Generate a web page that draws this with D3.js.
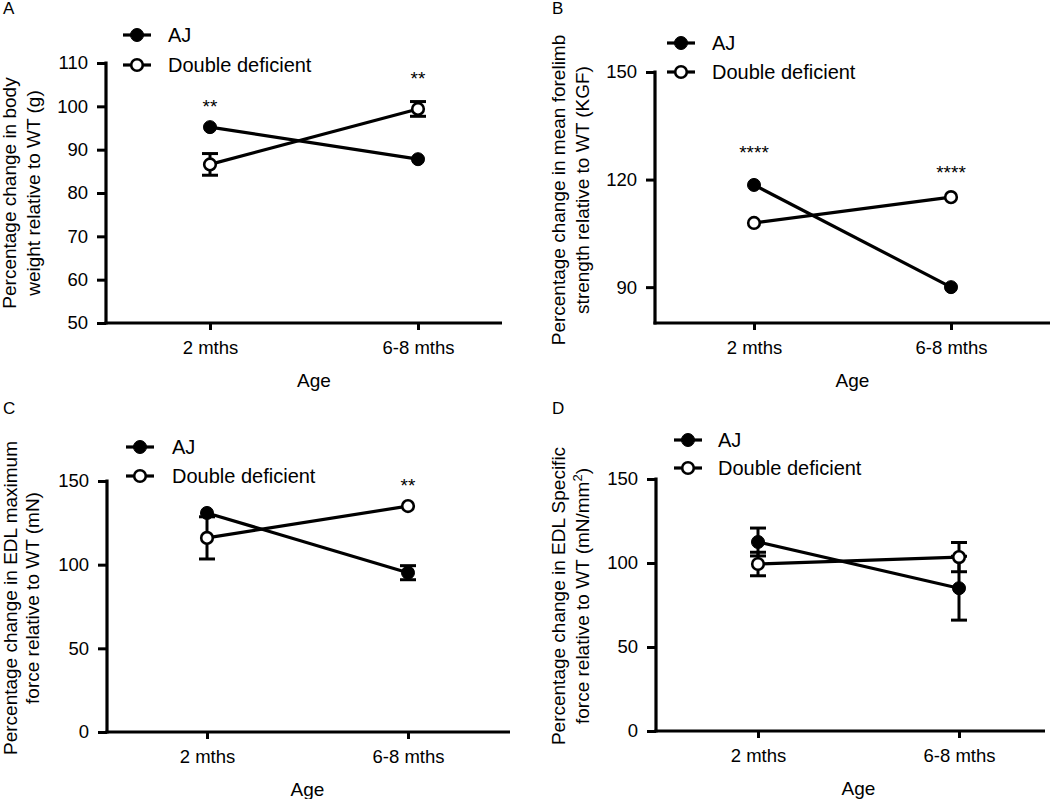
<!DOCTYPE html>
<html><head><meta charset="utf-8">
<script src="https://cdn.jsdelivr.net/npm/d3@7"></script>
<style>
body{margin:0;background:#fff;}
text{font-family:"Liberation Sans",Arial,Helvetica,sans-serif;fill:#000;}
</style></head>
<body><svg id="chart" width="1050" height="799"></svg>
<script>
// ---------- data ----------
const categories = ["2 mths", "6-8 mths"];
const seriesNames = ["AJ", "Double deficient"];

const panelLetters = ["A", "B", "C", "D"];
const yTitles = [
  ["Percentage change in body", "weight relative to WT (g)"],
  ["Percentage change in mean forelimb", "strength relative to WT (KGF)"],
  ["Percentage change in EDL maximum", "force relative to WT (mN)"],
  ["Percentage change in EDL Specific", "force relative to WT (mN/mm²)"]
];
const xTitle = "Age";

const yTicksA = [50, 60, 70, 80, 90, 100, 110];
const yTicksB = [90, 120, 150];
const yTicksC = [0, 50, 100, 150];
const yTicksD = [0, 50, 100, 150];

// A: body weight (SEM 0 = hidden behind the symbol)
const aAJ = [95.2, 87.8];
const aAJerr = [0, 0];
const aDD = [86.6, 99.4];
const aDDerr = [2.5, 1.7];
const aStars = [["2 mths", 98.5, "**"], ["6-8 mths", 104.9, "**"]];

// B: forelimb strength
const bAJ = [118.5, 90.0];
const bAJerr = [0, 0];
const bDD = [107.9, 115.1];
const bDDerr = [0, 0];
const bStars = [["2 mths", 125.7, "****"], ["6-8 mths", 120.1, "****"]];

// C: EDL maximum force
const cAJ = [130.9, 95.2];
const cAJerr = [0, 4.2];
const cDD = [116.0, 135.0];
const cDDerr = [12.6, 0];
const cStars = [["6-8 mths", 143.4, "**"]];

// D: EDL specific force
const dAJ = [112.5, 85.0];
const dAJerr = [8.3, 19.0];
const dDD = [99.4, 103.5];
const dDDerr = [7.0, 8.7];
const dStars = [];

// ---------- layout ----------
const panels = [
  {letter: panelLetters[0], title: yTitles[0], ticks: yTicksA, domain: [50, 110],
   aj: aAJ, ajErr: aAJerr, dd: aDD, ddErr: aDDerr, stars: aStars,
   axisX: 106, axisEnd: 502, yTop: 63, yBot: 323, xT: [210, 418],
   titleX: [16, 40], titleY: 193, legX: 137, legY: [35, 65], textX: 168},
  {letter: panelLetters[1], title: yTitles[1], ticks: yTicksB, domain: [80, 150],
   aj: bAJ, ajErr: bAJerr, dd: bDD, ddErr: bDDerr, stars: bStars,
   axisX: 655, axisEnd: 1050, yTop: 72, yBot: 323, xT: [754, 951],
   titleX: [565, 589], titleY: 190, legX: 681, legY: [43, 72], textX: 712},
  {letter: panelLetters[2], title: yTitles[2], ticks: yTicksC, domain: [0, 150],
   aj: cAJ, ajErr: cAJerr, dd: cDD, ddErr: cDDerr, stars: cStars,
   axisX: 107, axisEnd: 510, yTop: 481, yBot: 732, xT: [207, 408],
   titleX: [17, 39], titleY: 598, legX: 140, legY: [447, 476], textX: 172},
  {letter: panelLetters[3], title: yTitles[3], ticks: yTicksD, domain: [0, 150],
   aj: dAJ, ajErr: dAJerr, dd: dDD, ddErr: dDDerr, stars: dStars,
   axisX: 656, axisEnd: 1045, yTop: 479, yBot: 731, xT: [758, 959],
   titleX: [565, 589], titleY: 596, legX: 688, legY: [440, 468], textX: 718}
];
const letterPos = [[3, 14], [552, 14], [3, 414], [552, 414]];

const svg = d3.select("#chart");
const FS = 18.5;

panels.forEach((p, pi) => {
  const g = svg.append("g");
  const x = d3.scalePoint().domain(categories).range(p.xT);
  const y = d3.scaleLinear().domain(p.domain).range([p.yBot, p.yTop]);

  g.append("text").attr("x", letterPos[pi][0]).attr("y", letterPos[pi][1])
    .style("font-size", "17px").text(p.letter);

  // y axis
  const ya = g.append("g").attr("transform", `translate(${p.axisX},0)`)
    .call(d3.axisLeft(y).tickValues(p.ticks).tickSize(9).tickPadding(9).tickSizeOuter(0));
  ya.select(".domain").remove();
  ya.append("line").attr("x1", 0).attr("x2", 0).attr("y1", p.yTop - 1.5).attr("y2", p.yBot + 1.5)
    .attr("stroke", "#000").attr("stroke-width", 3.2);
  ya.selectAll(".tick line").attr("stroke", "#000").attr("stroke-width", 3);
  ya.selectAll(".tick text").style("font-size", FS + "px").style("font-family", '"Liberation Sans",Arial,sans-serif').attr("fill", "#000");

  // x axis
  const xa = g.append("g").attr("transform", `translate(0,${p.yBot})`)
    .call(d3.axisBottom(x).tickSize(7).tickPadding(11).tickSizeOuter(0));
  xa.select(".domain").remove();
  xa.append("line").attr("x1", p.axisX - 1.5).attr("x2", p.axisEnd).attr("y1", 0).attr("y2", 0)
    .attr("stroke", "#000").attr("stroke-width", 3.2);
  xa.selectAll(".tick line").attr("stroke", "#000").attr("stroke-width", 3);
  xa.selectAll(".tick text").style("font-size", FS + "px").style("font-family", '"Liberation Sans",Arial,sans-serif').attr("fill", "#000");

  g.append("text").attr("x", (p.xT[0] + p.xT[1]) / 2).attr("y", p.yBot + 64)
    .attr("text-anchor", "middle").style("font-size", "19px").text(xTitle);

  p.title.forEach((t, i) => {
    const tx = g.append("text").attr("transform", `translate(${p.titleX[i]},${p.titleY}) rotate(-90)`)
      .attr("text-anchor", "middle").style("font-size", "19px");
    if (t.indexOf("²") >= 0) {
      const parts = t.split("²");
      tx.append("tspan").text(parts[0]);
      tx.append("tspan").attr("dy", -7).style("font-size", "13px").text("2");
      tx.append("tspan").attr("dy", 7).text(parts[1]);
    } else tx.text(t);
  });

  const series = [
    {vals: p.aj, err: p.ajErr, fill: "#000"},
    {vals: p.dd, err: p.ddErr, fill: "#fff"}
  ];
  const line = d3.line().x((d, i) => x(categories[i])).y(d => y(d));

  series.forEach(s => {
    g.append("path").datum(s.vals).attr("d", line)
      .attr("fill", "none").attr("stroke", "#000").attr("stroke-width", 3.2);
  });
  series.forEach(s => {
    s.vals.forEach((v, i) => {
      if (!s.err[i]) return;
      const cx = x(categories[i]);
      const y1 = y(v + s.err[i]), y2 = y(v - s.err[i]);
      g.append("line").attr("x1", cx).attr("x2", cx).attr("y1", y1).attr("y2", y2)
        .attr("stroke", "#000").attr("stroke-width", 3);
      [y1, y2].forEach(yy => g.append("line").attr("x1", cx - 8).attr("x2", cx + 8)
        .attr("y1", yy).attr("y2", yy).attr("stroke", "#000").attr("stroke-width", 3));
    });
  });
  series.forEach(s => {
    g.selectAll(null).data(s.vals).enter().append("circle")
      .attr("cx", (d, i) => x(categories[i])).attr("cy", d => y(d))
      .attr("r", s.fill === "#000" ? 6.5 : 5.8)
      .attr("fill", s.fill).attr("stroke", "#000").attr("stroke-width", s.fill === "#000" ? 1 : 2.6);
  });

  p.stars.forEach(st => {
    g.append("text").attr("x", x(st[0])).attr("y", y(st[1]))
      .attr("text-anchor", "middle").style("font-size", "19px").text(st[2]);
  });

  seriesNames.forEach((name, i) => {
    const ly = p.legY[i];
    g.append("line").attr("x1", p.legX - 14).attr("x2", p.legX + 14).attr("y1", ly).attr("y2", ly)
      .attr("stroke", "#000").attr("stroke-width", 3.2);
    g.append("circle").attr("cx", p.legX).attr("cy", ly).attr("r", i === 0 ? 6.5 : 5.8)
      .attr("fill", i === 0 ? "#000" : "#fff").attr("stroke", "#000").attr("stroke-width", i === 0 ? 1 : 2.6);
    g.append("text").attr("x", p.textX).attr("y", ly + 7).style("font-size", "20px").text(name);
  });
});
</script></body></html>
